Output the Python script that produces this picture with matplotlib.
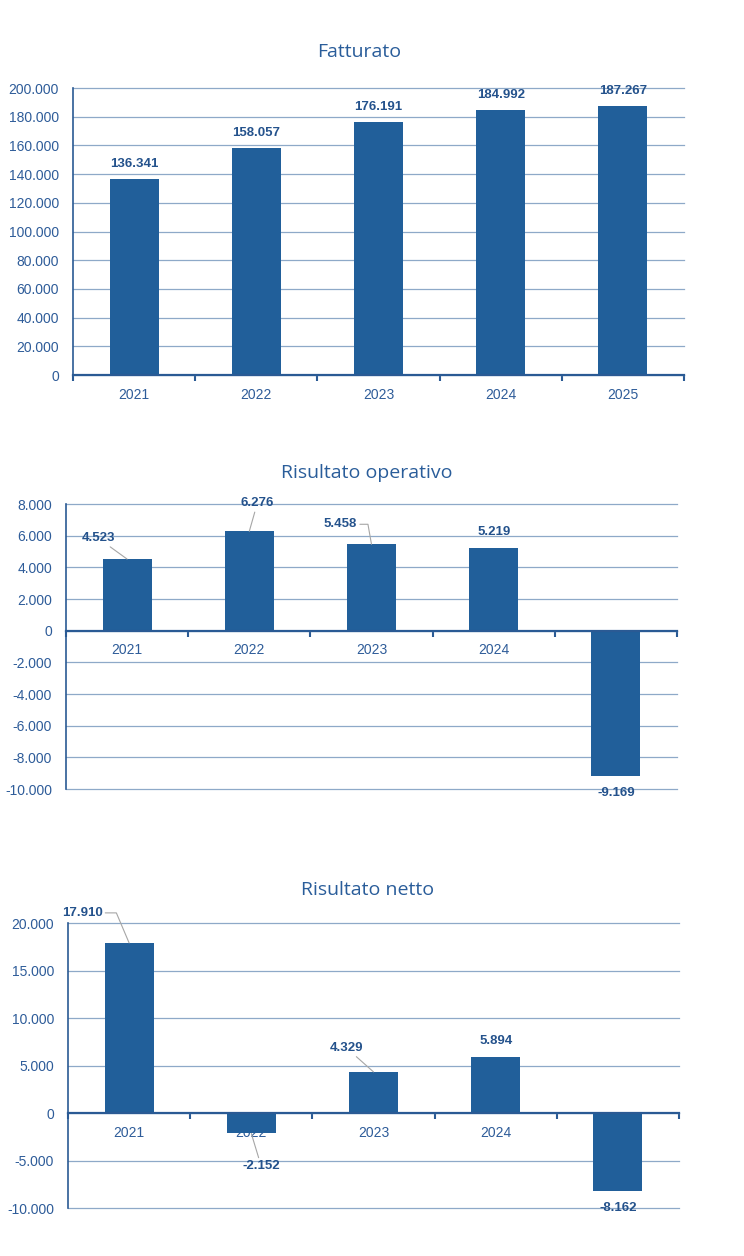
import matplotlib
matplotlib.use("Agg")
import matplotlib.pyplot as plt
from matplotlib.ticker import FuncFormatter, MultipleLocator, FixedLocator, NullFormatter

# dati (migliaia di euro)
years = ["2021", "2022", "2023", "2024", "2025"]
fatturato = [136341, 158057, 176191, 184992, 187267]
risultato_operativo = [4523, 6276, 5458, 5219, -9169]
risultato_netto = [17910, -2152, 4329, 5894, -8162]

BAR = "#215F9A"
GRID = "#8EA9C8"
AXIS = "#2A5A94"
TXT = "#2E5C99"
LBL = "#24528C"
LEADER = "#A6A6A6"
NUM_FONT = ["Liberation Sans Narrow", "Liberation Sans", "DejaVu Sans"]
TITLE_FONT = ["Open Sans", "DejaVu Sans"]

plt.rcParams["font.family"] = ["Liberation Sans", "DejaVu Sans"]


def fmt(v):
    return f"{v:,.0f}".replace(",", ".")


def draw_panel(ax, values, ymin, ymax, step, offsets, leaders):
    x = list(range(len(years)))
    ax.set_axisbelow(True)
    ax.bar(x, values, width=0.4, color=BAR, zorder=1)
    ax.set_xlim(-0.5, len(years) - 0.5)
    ax.set_ylim(ymin, ymax)

    ax.yaxis.set_major_locator(MultipleLocator(step))
    ax.yaxis.set_major_formatter(FuncFormatter(lambda v, p: fmt(v)))
    ax.grid(axis="y", color=GRID, lw=0.9)
    ax.tick_params(axis="y", length=0, pad=10, labelsize=10, labelcolor=TXT)

    # tacche sui confini delle categorie, etichette al centro
    ax.xaxis.set_major_locator(FixedLocator([i - 0.5 for i in range(len(years) + 1)]))
    ax.xaxis.set_major_formatter(NullFormatter())
    ax.xaxis.set_minor_locator(FixedLocator(x))
    ax.set_xticklabels(years, minor=True)
    ax.tick_params(axis="x", which="major", direction="out", length=4, width=1.5, color=AXIS)
    ax.tick_params(axis="x", which="minor", length=0, pad=9, labelsize=10, labelcolor=TXT)

    ax.spines["top"].set_visible(False)
    ax.spines["right"].set_visible(False)
    ax.spines["left"].set_color(AXIS)
    ax.spines["left"].set_linewidth(1.2)
    ax.spines["bottom"].set_position(("data", 0))
    ax.spines["bottom"].set_color(AXIS)
    ax.spines["bottom"].set_linewidth(1.6)

    for i, v in enumerate(values):
        arrow = None
        if leaders[i]:
            arrow = dict(arrowstyle="-", color=LEADER, lw=0.8,
                         connectionstyle=leaders[i], shrinkA=0, shrinkB=0)
        ax.annotate(fmt(v), xy=(i, v), xytext=offsets[i], textcoords="offset pixels",
                    ha="center", va="center", fontsize=9.5, fontweight="bold",
                    color=LBL, family=NUM_FONT, arrowprops=arrow, zorder=4)


fig = plt.figure(figsize=(7.44, 12.56), dpi=100)

ax1 = fig.add_axes([0.0981, 0.7014, 0.8212, 0.2285])
draw_panel(ax1, fatturato, 0, 200000, 20000,
           [(0, 15)] * 5, [None] * 5)

ax2 = fig.add_axes([0.0887, 0.3718, 0.8212, 0.2269])
draw_panel(ax2, risultato_operativo, -10000, 8000, 2000,
           [(-29, 21), (8, 28), (-31, 20), (0, 16), (0, -17)],
           ["arc3", "arc3", "angle,angleA=0,angleB=100,rad=0", None, None])

ax3 = fig.add_axes([0.0914, 0.0382, 0.8212, 0.2269])
draw_panel(ax3, risultato_netto, -10000, 20000, 5000,
           [(-47, 30), (10, -33), (-27, 24), (0, 16), (0, -17)],
           ["angle,angleA=0,angleB=113,rad=0", "arc3", "arc3", None, None])

for title, (px, py) in [("Fatturato", (359, 52)),
                        ("Risultato operativo", (367, 473)),
                        ("Risultato netto", (368, 890))]:
    fig.text(px / 744, 1 - py / 1256, title, ha="center", va="center",
             fontsize=14, color="#2A5D9A", family=TITLE_FONT)

# la griglia sul bordo inferiore non va tagliata
fig.canvas.draw()
for ax in (ax1, ax2, ax3):
    for line in ax.get_ygridlines():
        line.set_clip_on(False)

fig.savefig("out.png", dpi=100)
